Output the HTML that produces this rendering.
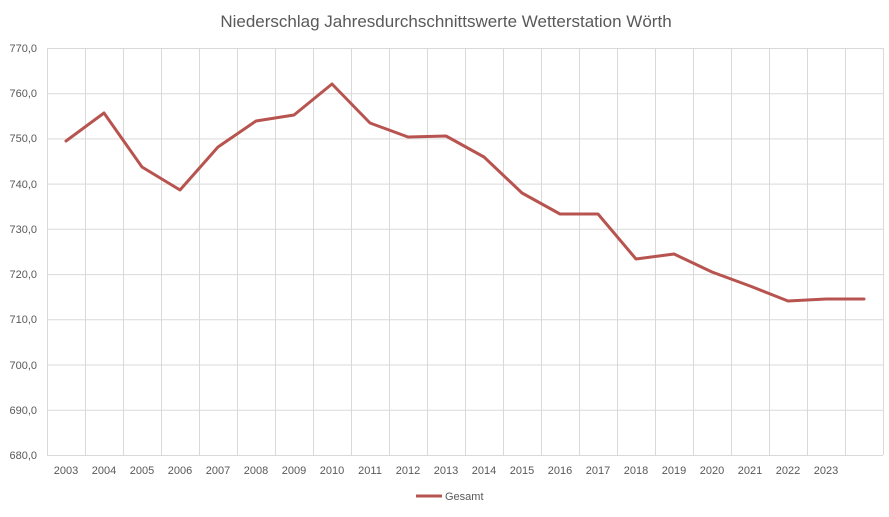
<!DOCTYPE html>
<html><head><meta charset="utf-8"><style>
html,body{margin:0;padding:0;background:#fff;}
svg{display:block;font-family:"Liberation Sans",sans-serif;}
</style></head><body>
<svg width="889" height="517" viewBox="0 0 889 517">
<rect width="889" height="517" fill="#fff"/>
<text x="446" y="27" text-anchor="middle" font-size="17" fill="#595959">Niederschlag Jahresdurchschnittswerte Wetterstation Wörth</text>
<g stroke="#d9d9d9" stroke-width="1">
<line x1="47" y1="48.5" x2="883" y2="48.5"/>
<line x1="47" y1="93.7" x2="883" y2="93.7"/>
<line x1="47" y1="138.9" x2="883" y2="138.9"/>
<line x1="47" y1="184.1" x2="883" y2="184.1"/>
<line x1="47" y1="229.3" x2="883" y2="229.3"/>
<line x1="47" y1="274.6" x2="883" y2="274.6"/>
<line x1="47" y1="319.8" x2="883" y2="319.8"/>
<line x1="47" y1="365" x2="883" y2="365"/>
<line x1="47" y1="410.2" x2="883" y2="410.2"/>
<line x1="47" y1="455.5" x2="883" y2="455.5"/>
<line x1="47.5" y1="48" x2="47.5" y2="455"/><line x1="85.5" y1="48" x2="85.5" y2="455"/><line x1="123.5" y1="48" x2="123.5" y2="455"/><line x1="161.5" y1="48" x2="161.5" y2="455"/><line x1="199.5" y1="48" x2="199.5" y2="455"/><line x1="237.5" y1="48" x2="237.5" y2="455"/><line x1="275.5" y1="48" x2="275.5" y2="455"/><line x1="313.5" y1="48" x2="313.5" y2="455"/><line x1="351.5" y1="48" x2="351.5" y2="455"/><line x1="389.5" y1="48" x2="389.5" y2="455"/><line x1="427.5" y1="48" x2="427.5" y2="455"/><line x1="465.5" y1="48" x2="465.5" y2="455"/><line x1="503.5" y1="48" x2="503.5" y2="455"/><line x1="541.5" y1="48" x2="541.5" y2="455"/><line x1="579.5" y1="48" x2="579.5" y2="455"/><line x1="617.5" y1="48" x2="617.5" y2="455"/><line x1="655.5" y1="48" x2="655.5" y2="455"/><line x1="693.5" y1="48" x2="693.5" y2="455"/><line x1="731.5" y1="48" x2="731.5" y2="455"/><line x1="769.5" y1="48" x2="769.5" y2="455"/><line x1="807.5" y1="48" x2="807.5" y2="455"/><line x1="845.5" y1="48" x2="845.5" y2="455"/><line x1="883.5" y1="48" x2="883.5" y2="455"/>
</g>
<g font-size="11" fill="#595959" text-anchor="end">
<text x="37" y="52">770,0</text><text x="37" y="97">760,0</text><text x="37" y="142">750,0</text><text x="37" y="188">740,0</text><text x="37" y="233">730,0</text><text x="37" y="278">720,0</text><text x="37" y="323">710,0</text><text x="37" y="369">700,0</text><text x="37" y="414">690,0</text><text x="37" y="459">680,0</text>
</g>
<g font-size="11" fill="#595959" text-anchor="middle">
<text x="66" y="474">2003</text><text x="104" y="474">2004</text><text x="142" y="474">2005</text><text x="180" y="474">2006</text><text x="218" y="474">2007</text><text x="256" y="474">2008</text><text x="294" y="474">2009</text><text x="332" y="474">2010</text><text x="370" y="474">2011</text><text x="408" y="474">2012</text><text x="446" y="474">2013</text><text x="484" y="474">2014</text><text x="522" y="474">2015</text><text x="560" y="474">2016</text><text x="598" y="474">2017</text><text x="636" y="474">2018</text><text x="674" y="474">2019</text><text x="712" y="474">2020</text><text x="750" y="474">2021</text><text x="788" y="474">2022</text><text x="826" y="474">2023</text>
</g>
<polyline fill="none" stroke="#b85450" stroke-width="3" stroke-linejoin="round" stroke-linecap="round" points="66,141 104,113 142,167 180,190 218,147 256,121 294,115 332,84 370,123 408,137 446,136 484,157 522,193 560,214 598,214 636,259 674,254 712,272 750,286 788,301 826,299 864,299"/>
<line x1="416" y1="496" x2="442" y2="496" stroke="#b85450" stroke-width="3"/>
<text x="445" y="500" font-size="11" fill="#595959">Gesamt</text>
</svg>
</body></html>
